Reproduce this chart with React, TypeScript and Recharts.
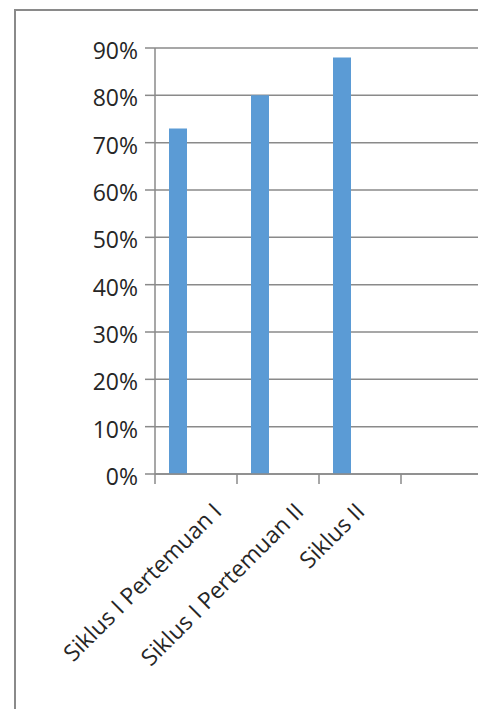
import { BarChart, Bar, XAxis, YAxis, CartesianGrid } from 'recharts';

const categories = ['Siklus I Pertemuan I', 'Siklus I Pertemuan II', 'Siklus II', ''];
const seriesOne = [73, 80, 88, null];
const seriesTwo = [null, null, null, null];
const seriesThree = [null, null, null, null];
const yTicks = [0, 10, 20, 30, 40, 50, 60, 70, 80, 90];

const CHART_W = 490;
const CHART_H = 709;
const Y_AXIS_W = 155;
const MARGIN_R = 7;
const BAND = (CHART_W - Y_AXIS_W - MARGIN_R) / categories.length;
const GRAY = '#8a8a8a';
const FONT = '"Open Sans", sans-serif';

const data = categories.map((name, i) => ({
  name,
  s1: seriesOne[i],
  s2: seriesTwo[i],
  s3: seriesThree[i],
}));

function CategoryTick(props: any) {
  const { x, y, payload } = props;
  const label = String(payload.value);
  // long labels sit further right, like the original
  const long = label.length > 12;
  const tx = x + (long ? 27 : 6);
  const ty = y + 39;
  return (
    <g>
      <line x1={x - BAND / 2} x2={x - BAND / 2} y1={y} y2={y + 10} stroke={GRAY} strokeWidth={1.5} />
      {label && (
        <text
          x={tx}
          y={ty}
          textAnchor="end"
          fill="#262626"
          fontSize={23}
          fontFamily={FONT}
          transform={`rotate(-45, ${tx}, ${ty})`}
        >
          {label}
        </text>
      )}
    </g>
  );
}

export default function App() {
  return (
    <div
      style={{
        position: 'fixed',
        left: 0,
        top: 0,
        width: 478,
        height: 709,
        overflow: 'hidden',
        background: '#fff',
      }}
    >
      <div
        style={{
          position: 'absolute',
          left: 14,
          top: 9,
          width: 600,
          height: 800,
          border: `2px solid ${GRAY}`,
        }}
      />
      <div style={{ position: 'absolute', left: 0, top: 0 }}>
        <BarChart
          width={CHART_W}
          height={CHART_H}
          data={data}
          margin={{ top: 48, right: MARGIN_R, left: 0, bottom: 0 }}
          barCategoryGap={14}
          barGap={0}
        >
          <CartesianGrid vertical={false} stroke={GRAY} strokeWidth={1.5} />
          <XAxis
            dataKey="name"
            interval={0}
            height={235}
            axisLine={{ stroke: GRAY, strokeWidth: 1.5 }}
            tickLine={false}
            tickSize={0}
            tickMargin={0}
            tick={<CategoryTick />}
          />
          <YAxis
            width={Y_AXIS_W}
            domain={[0, 90]}
            ticks={yTicks}
            interval={0}
            tickFormatter={(v) => `${v}%`}
            axisLine={{ stroke: GRAY, strokeWidth: 1.5 }}
            tickLine={{ stroke: GRAY, strokeWidth: 1.5 }}
            tickSize={10}
            tickMargin={7}
            tick={{ fill: '#262626', fontSize: 23, fontFamily: FONT, dy: 3 }}
          />
          <Bar dataKey="s1" fill="#5b9bd5" isAnimationActive={false} />
          <Bar dataKey="s2" fill="#ed7d31" isAnimationActive={false} />
          <Bar dataKey="s3" fill="#a5a5a5" isAnimationActive={false} />
        </BarChart>
      </div>
    </div>
  );
}
